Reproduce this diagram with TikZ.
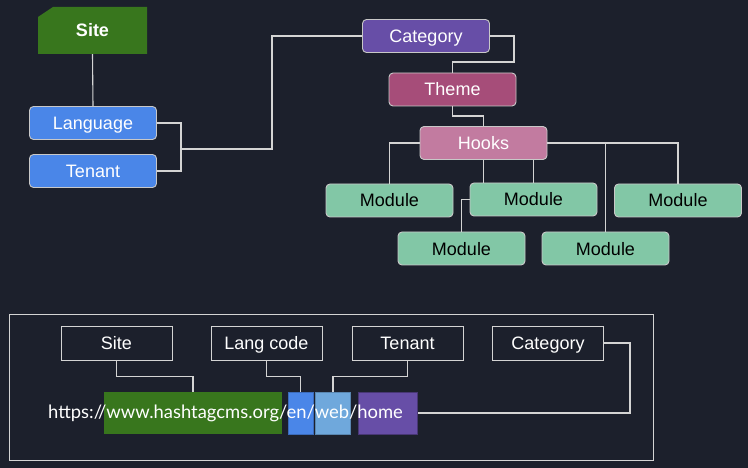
\documentclass[tikz,border=0pt]{standalone}
\usepackage{fontspec}
\setmainfont{Liberation Sans}
\newfontfamily\lato{Lato}
\begin{document}
\definecolor{bg}{RGB}{28,32,44}
\definecolor{ln}{RGB}{212,212,212}
\definecolor{bd}{RGB}{200,200,200}
\definecolor{sitegreen}{HTML}{38761D}
\definecolor{langblue}{HTML}{4A86E8}
\definecolor{lightblue}{HTML}{6FA8DC}
\definecolor{catpurple}{HTML}{674EA7}
\definecolor{themepink}{HTML}{A64D79}
\definecolor{hookpink}{HTML}{C27BA0}
\definecolor{modgreen}{RGB}{130,199,166}
\begin{tikzpicture}[x=1pt,y=-1pt,
  every node/.style={inner sep=0pt,font=\fontsize{18}{20}\selectfont,text height=13pt,text depth=0pt},
  rbox/.style={draw=bd,line width=0.9pt,rounded corners=4pt,minimum width=127pt,minimum height=33pt,text=white},
  modbox/.style={rbox,fill=modgreen,text=black},
  lbox/.style={draw=ln,line width=0.9pt,fill=bg,minimum width=111pt,minimum height=34pt,text=white},
  conn/.style={draw=ln,line width=1.1pt},
  seg/.style={inner sep=0pt,minimum height=42pt,text height=0pt,text depth=0pt}
]
\fill[bg] (0,0) rectangle (748,468);
\useasboundingbox (0,0) rectangle (748,468);

% top site shape
\fill[sitegreen] (38,17) -- (53,7) -- (147,7) -- (147,54) -- (38,54) -- cycle;
\node[text=white,minimum width=109pt,minimum height=47pt] (site) at (92.5,30.5) {\textbf{Site}};

\node[rbox,fill=langblue] (lang) at (93,123) {Language};
\node[rbox,fill=langblue] (ten) at (93,171) {Tenant};
\node[rbox,fill=catpurple] (cat) at (426,36) {Category};
\node[rbox,fill=themepink] (theme) at (452.5,89.5) {Theme};
\node[rbox,fill=hookpink] (hooks) at (483.5,143) {Hooks};
\node[modbox] (m1) at (389.5,200.5) {Module};
\node[modbox] (m2) at (533.5,199.5) {Module};
\node[modbox] (m3) at (678,200.5) {Module};
\node[modbox] (m4) at (461.5,248.5) {Module};
\node[modbox] (m5) at (605.5,248.5) {Module};

\coordinate (j1) at (181,149);
\draw[conn] (site.south) -- (lang.north);
\draw[conn] (lang.east) -| (j1) |- (ten.east);
\draw[conn] (j1) -- (272,149) |- (cat.west);
\draw[conn] (cat.east) -- (514,36) -- (514,62) -| (theme.north);
\draw[conn] (theme.south) -- (452.5,116) -| (hooks.north);
\draw[conn] (hooks.west) -| (m1.north);
\draw[conn] (hooks.south) -- (hooks.south |- m2.north);
\draw[conn] (m2.north |- hooks.south) -- (m2.north);
\draw[conn] (m2.west) -| (m4.north);
\draw[conn] (hooks.east) -| (m3.north);
\draw[conn] (m5.north) -- (m5.north |- hooks.east);

% bottom section
\draw[ln,line width=0.9pt] (9,314) rectangle (653,460);
\node[lbox] (bsite) at (116.5,343) {Site};
\node[lbox] (blang) at (266.5,343) {Lang code};
\node[lbox] (bten) at (407.5,343) {Tenant};
\node[lbox] (bcat) at (548,343) {Category};

\node[seg,fill=sitegreen,minimum width=178pt] (ugreen) at (193,413) {};
\node[seg,fill=langblue,draw=langblue!80!black,line width=0.5pt,minimum width=25pt] (ublue) at (300.5,413) {};
\node[seg,fill=lightblue,draw=lightblue!80!black,line width=0.5pt,minimum width=35pt] (ulb) at (333,413) {};
\node[seg,fill=catpurple,draw=catpurple!70!black,line width=0.5pt,minimum width=59pt] (upur) at (388,413) {};
\node[anchor=base west,text=white,font=\lato\fontsize{18.4}{20}\selectfont,text height=,text depth=] (url) at (48,418.5) {https://www.hashtagcms.org/en/web/home};

\draw[conn] (bsite.south) -- ++(0,16) -| (ugreen.north);
\draw[conn] (blang.south) -- ++(0,16) -| (ublue.north);
\draw[conn] (bten.south) -- ++(0,16) -| (ulb.north);
\draw[conn] (bcat.east) -- ++(26,0) |- (upur.east);
\end{tikzpicture}
\end{document}
